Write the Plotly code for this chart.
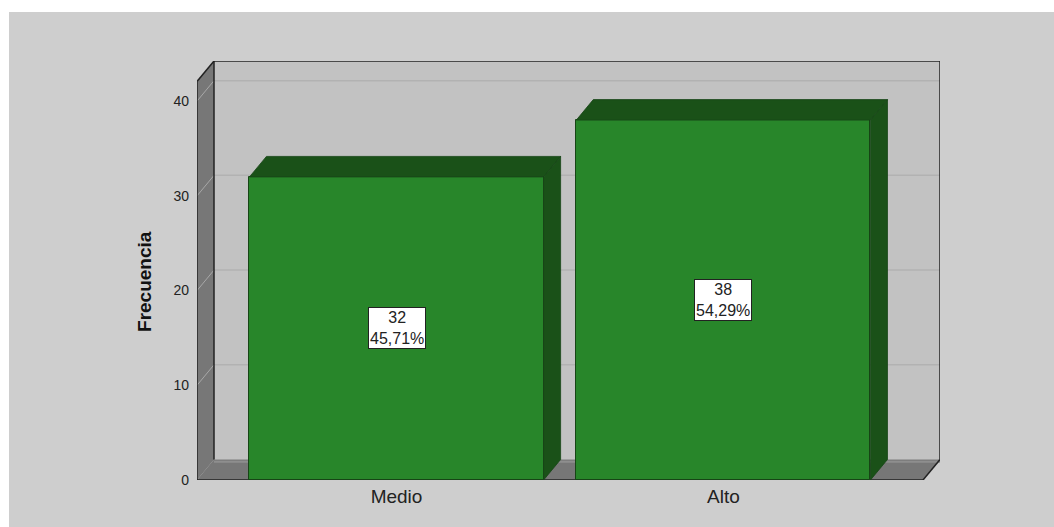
import plotly.graph_objects as go

# ---- data ----
categories = ["Medio", "Alto"]
counts = [32, 38]
percents = [45.71, 54.29]
y_ticks = [0, 10, 20, 30, 40]

# ---- geometry (axis units) ----
x_pos = list(range(len(categories)))
bar_w = 0.9
dxu = 0.052          # depth offset in x units
dyu = 2.165          # depth offset in y units
x_front_l = -0.6104
x_front_r = 1.6107
x_back_r = x_front_r + dxu
y_top = 44.24
y_front_top = y_top - dyu

front_col = "#28862a"
dark_col = "#1a5118"
edge_col = "#174516"
wall_col = "#777777"
back_col = "#c2c2c2"
bg_col = "#cecece"
line_col = "#222222"
font_fam = "Liberation Sans, Arial"

fig = go.Figure()

shapes = []
# overall grey background (paper coords)
shapes.append(dict(type="rect", xref="paper", yref="paper", x0=-0.253, x1=1.2,
                   y0=-0.2, y1=1.117, fillcolor=bg_col, line=dict(width=0), layer="below"))
# back wall
shapes.append(dict(type="rect", xref="x", yref="y", x0=x_front_l + dxu, x1=x_back_r,
                   y0=dyu, y1=y_top, fillcolor=back_col, line=dict(width=0), layer="below"))
# gridlines on back wall and left wall
for v in y_ticks[1:]:
    shapes.append(dict(type="line", xref="x", yref="y", x0=x_front_l + dxu, x1=x_back_r,
                       y0=v + dyu, y1=v + dyu, line=dict(color="#b2b2b2", width=1.5), layer="below"))
# left wall
shapes.append(dict(type="path", xref="x", yref="y",
                   path=f"M {x_front_l},0 L {x_front_l},{y_front_top} L {x_front_l+dxu},{y_top} L {x_front_l+dxu},{dyu} Z",
                   fillcolor=wall_col, line=dict(width=0), layer="below"))
for v in y_ticks[1:]:
    shapes.append(dict(type="line", xref="x", yref="y", x0=x_front_l, x1=x_front_l + dxu,
                       y0=v, y1=v + dyu, line=dict(color="#a8a8a8", width=1), layer="below"))
# floor
shapes.append(dict(type="path", xref="x", yref="y",
                   path=f"M {x_front_l},0 L {x_front_r},0 L {x_back_r},{dyu} L {x_front_l+dxu},{dyu} Z",
                   fillcolor=wall_col, line=dict(width=0), layer="below"))
shapes.append(dict(type="line", xref="x", yref="y", x0=x_front_l + dxu, x1=x_back_r,
                   y0=dyu - 0.25, y1=dyu - 0.25, line=dict(color="#8e8e8e", width=2), layer="below"))
# dark edges
edges = [
    (x_front_l, 0, x_front_l, y_front_top),
    (x_front_l, y_front_top, x_front_l + dxu, y_top),
    (x_front_l + dxu, y_top, x_back_r, y_top),
    (x_back_r, y_top, x_back_r, dyu),
    (x_back_r, dyu, x_front_r, 0),
    (x_front_r, 0, x_front_l, 0),
    (x_front_l + dxu, dyu, x_front_l + dxu, y_top),
]
for (a, b, c, d) in edges:
    shapes.append(dict(type="line", xref="x", yref="y", x0=a, y0=b, x1=c, y1=d,
                       line=dict(color=line_col, width=1.5), layer="below"))

# front faces
fig.add_trace(go.Bar(x=x_pos, y=counts, width=bar_w, marker=dict(color=front_col,
                     line=dict(color=edge_col, width=1)), hoverinfo="skip", showlegend=False))

# top and side faces
for xc, v in zip(x_pos, counts):
    l, r = xc - bar_w / 2, xc + bar_w / 2
    fig.add_trace(go.Scatter(x=[l, l + dxu, r + dxu, r, l], y=[v, v + dyu, v + dyu, v, v],
                             mode="lines", fill="toself", fillcolor=dark_col,
                             line=dict(color=edge_col, width=0.8), hoverinfo="skip", showlegend=False))
    fig.add_trace(go.Scatter(x=[r, r, r + dxu, r + dxu, r], y=[0, v, v + dyu, dyu, 0],
                             mode="lines", fill="toself", fillcolor=dark_col,
                             line=dict(color=edge_col, width=0.8), hoverinfo="skip", showlegend=False))

annotations = []
for xc, v, p in zip(x_pos, counts, percents):
    annotations.append(dict(x=xc, y=v / 2, xref="x", yref="y", showarrow=False,
                            text=f"{v}<br>{p:.2f}%".replace(".", ","),
                            font=dict(family=font_fam, size=16, color="#222222"),
                            bgcolor="white", bordercolor="#222222", borderwidth=1, borderpad=1,
                            align="center"))
annotations.append(dict(x=-0.07, y=0.475, xref="paper", yref="paper", showarrow=False,
                        text="<b>Frecuencia</b>", textangle=-90,
                        font=dict(family=font_fam, size=19, color="#111111"),
                        xanchor="center", yanchor="middle"))

fig.update_layout(
    width=1054, height=527,
    margin=dict(l=197, r=114, t=61, b=47),
    paper_bgcolor="white", plot_bgcolor="rgba(0,0,0,0)",
    shapes=shapes, annotations=annotations,
    bargap=0,
    xaxis=dict(range=[x_front_l, x_back_r], tickvals=x_pos, ticktext=categories,
               showgrid=False, zeroline=False, showline=False, ticks="",
               ticklabelstandoff=3,
               tickfont=dict(family=font_fam, size=19, color="#222222"),
               fixedrange=True),
    yaxis=dict(range=[0, y_top], tickvals=y_ticks, showgrid=False, zeroline=False,
               showline=False, ticks="", ticklabelstandoff=7,
               tickfont=dict(family=font_fam, size=14, color="#222222"),
               fixedrange=True),
)

fig.write_html("out.html")
